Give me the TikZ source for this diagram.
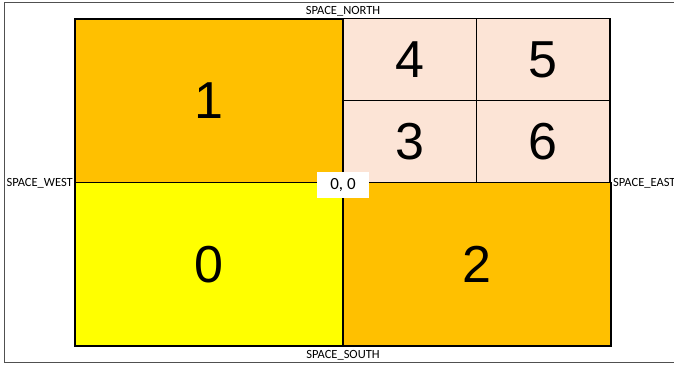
\documentclass[tikz,border=0pt]{standalone}
\usepackage{fontspec}
\setmainfont{Liberation Sans}
\newfontfamily\labelfont{Carlito}
\usetikzlibrary{positioning}
\definecolor{cellorange}{HTML}{FFC000}
\definecolor{cellyellow}{HTML}{FFFF00}
\definecolor{cellpale}{HTML}{FCE4D6}
\definecolor{framegray}{HTML}{505050}
\tikzset{
	cellnode/.style={
			rectangle,
			draw=black,
			line width=1.2pt,
			inner sep=0pt,
			font=\fontsize{52}{52}\selectfont
		},
	bigcell/.style={
			cellnode,
			minimum width=268pt,
			minimum height=163.5pt
		},
	smallcell/.style={
			cellnode,
			fill=cellpale,
			minimum width=133.5pt,
			minimum height=82pt
		},
	spacelabel/.style={
			inner sep=1pt,
			font=\labelfont\fontsize{12.5}{14}\selectfont
		},
	originnode/.style={
			fill=white,
			minimum width=52pt,
			minimum height=26pt,
			inner sep=0pt,
			font=\labelfont\fontsize{17}{17}\selectfont
		}
}
\begin{document}
\begin{tikzpicture}[x=1pt, y=1pt]
\useasboundingbox (0,0) rectangle (674,365);
% outer frame, cut off at the right
\draw[framegray, line width=0.9pt] (690,363) -- (4,363) -- (4,3) -- (690,3);

\node[bigcell, fill=cellorange] (c1) at (209,264.25)  { 1 };
\node[bigcell, fill=cellyellow] (c0) at (209,100.75)  { 0 };
\node[bigcell, fill=cellorange] (c2) at (477,100.75)  { 2 };
\node[smallcell] (c4) at (409.75,305.5)  { 4 };
\node[smallcell] (c5) at (543.25,305.5)  { 5 };
\node[smallcell] (c3) at (409.75,223.5)  { 3 };
\node[smallcell] (c6) at (543.25,223.5)  { 6 };

\node[originnode] (origin) at (343,180)  { 0, 0 };

\node[spacelabel] (north) at (343,354)  { SPACE\_NORTH };
\node[spacelabel] (south) at (343,10)  { SPACE\_SOUTH };
\node[spacelabel, anchor=east] (west) at (74,182)  { SPACE\_WEST };
\node[spacelabel, anchor=west] (east) at (612,182)  { SPACE\_EAST };
\end{tikzpicture}
\end{document}
